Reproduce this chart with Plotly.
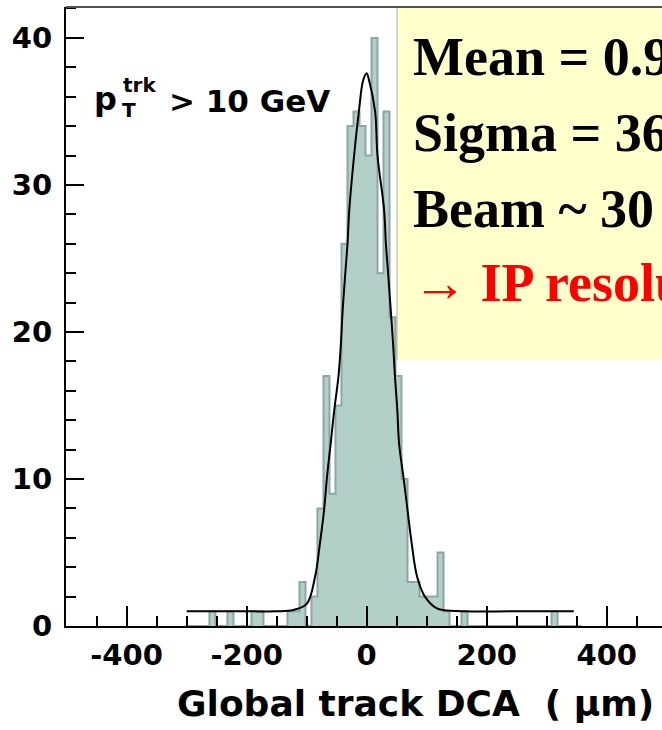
import numpy as np
import plotly.graph_objects as go

# ---------------- data ----------------
bin_start = -302          # left edge of first bin (µm)
bin_width = 10            # µm
counts = [0, 0, 0, 0, 1, 0, 0, 1, 0, 0,
          0, 1, 1, 0, 0, 0, 0, 1, 1, 3,
          0, 2, 8, 17, 9, 15, 26, 34, 35, 34,
          32, 40, 24, 35, 21, 17, 10, 3, 3, 2,
          2, 2, 5, 1, 0, 0, 1, 0, 0, 0,
          0, 0, 0, 0, 0, 0, 0, 0, 0, 0,
          0, 1, 0, 0, 0, 0]

fit_x = [-300, -200, -150, -122, -100, -86, -78, -71, -66, -60, -54, -47, -43,
         -40, -36, -32, -29, -21, -13, -6, 0, 4, 14, 18, 29, 32, 36, 40, 44, 47,
         51, 54, 61, 68, 75, 84, 97, 117, 150, 250, 345]
fit_y = [1.0, 1.0, 1.0, 1.09, 1.5, 3.35, 5.6, 7.9, 10.2, 12.4, 14.7, 17.0, 19.2,
         21.5, 23.8, 26.0, 28.3, 32.0, 35.0, 37.1, 37.6, 37.1, 35.0, 32.0, 28.3,
         26.0, 23.8, 21.5, 19.2, 17.0, 14.7, 12.4, 10.2, 7.9, 5.6, 3.35, 2.0, 1.2,
         1.02, 1.0, 1.0]

x_ticks = [-400, -200, 0, 200, 400]
x_tick_labels = ["-400", "-200", "0", "200", "400"]
y_ticks = [0, 10, 20, 30, 40]

info_lines = ["Mean = 0.9 \u03bcm", "Sigma = 36 \u03bcm", "Beam ~ 30 \u03bcm"]
info_red = "\u2192 IP resolution ~ 20 \u03bcm"

# ---------------- figure ----------------
edges = bin_start + bin_width * np.arange(len(counts) + 1)
step_y = list(counts) + [counts[-1]]

fig = go.Figure()
fig.add_trace(go.Scatter(
    x=edges, y=step_y, mode="lines", line_shape="hv",
    fill="tozeroy", fillcolor="rgb(178,208,199)",
    line=dict(color="rgb(140,166,168)", width=2),
    hoverinfo="skip", showlegend=False))
fig.add_trace(go.Scatter(
    x=fit_x, y=fit_y, mode="lines", line_shape="spline",
    line=dict(color="black", width=2), showlegend=False))

W, H = 662, 730
L, R, T, B = 66, 0, 7, 104
pw, ph = W - L - R, H - T - B


def px(xp):
    return (xp - L) / pw


def py(yp):
    return (H - B - yp) / ph


axis_font = dict(family="DejaVu Sans", size=29, color="black", weight="bold")

fig.update_layout(
    width=W, height=H,
    margin=dict(l=L, r=R, t=T, b=B),
    plot_bgcolor="white", paper_bgcolor="white",
    showlegend=False,
    xaxis=dict(range=[-501, 492], tickvals=x_ticks, ticktext=x_tick_labels,
               ticks="inside", ticklen=20,
               tickwidth=2, tickcolor="black", showline=True, linecolor="black",
               linewidth=2, showgrid=False, zeroline=False,
               tickfont=axis_font, ticklabelstandoff=2,
               minor=dict(dtick=50, ticks="inside", ticklen=10, tickwidth=2,
                          tickcolor="black", showgrid=False)),
    yaxis=dict(range=[0, 42.1], tickvals=y_ticks, ticks="inside", ticklen=18,
               tickwidth=2, tickcolor="black", showline=True, linecolor="black",
               linewidth=2, showgrid=False, zeroline=False,
               tickfont=axis_font, ticklabelstandoff=6,
               minor=dict(dtick=2, ticks="inside", ticklen=10, tickwidth=2,
                          tickcolor="black", showgrid=False)),
)

# top frame line
fig.add_shape(type="line", xref="paper", yref="paper", x0=0, x1=1.2, y0=1, y1=1,
              line=dict(color="rgb(80,80,80)", width=2))

# yellow info box
fig.add_shape(type="rect", xref="paper", yref="paper",
              x0=px(397), x1=1.3, y0=py(360), y1=py(8),
              fillcolor="rgb(255,255,204)", line=dict(width=0), layer="above")
fig.add_shape(type="line", xref="paper", yref="paper",
              x0=px(397), x1=px(397), y0=py(360), y1=py(8),
              line=dict(color="rgb(170,170,170)", width=1), layer="above")

serif = dict(family="Liberation Serif", size=54, color="black", weight="bold")
for txt, yc in zip(info_lines, [57, 133, 209]):
    fig.add_annotation(xref="paper", yref="paper", x=px(411), y=py(yc),
                       xanchor="left", yanchor="middle", showarrow=False,
                       text=txt, font=serif)
fig.add_annotation(xref="paper", yref="paper", x=px(411), y=py(283),
                   xanchor="left", yanchor="middle", showarrow=False,
                   text=info_red,
                   font=dict(family="Liberation Serif", size=54,
                             color="rgb(255,0,0)", weight="bold"))

# p_T^trk > 10 GeV label
lab = dict(family="DejaVu Sans", color="black", weight="bold")
fig.add_annotation(xref="paper", yref="paper", x=px(92), y=py(99),
                   xanchor="left", yanchor="middle", showarrow=False,
                   text="p", font=dict(size=32, **lab))
fig.add_annotation(xref="paper", yref="paper", x=px(121), y=py(85),
                   xanchor="left", yanchor="middle", showarrow=False,
                   text="trk", font=dict(size=20, **lab))
fig.add_annotation(xref="paper", yref="paper", x=px(120), y=py(110),
                   xanchor="left", yanchor="middle", showarrow=False,
                   text="T", font=dict(size=20, **lab))
fig.add_annotation(xref="paper", yref="paper", x=px(167), y=py(101),
                   xanchor="left", yanchor="middle", showarrow=False,
                   text="> 10 GeV", font=dict(size=31, **lab))

# x-axis title
fig.add_annotation(xref="paper", yref="paper", x=px(415), y=py(703),
                   xanchor="center", yanchor="middle", showarrow=False,
                   text="Global track DCA  ( \u03bcm)",
                   font=dict(family="DejaVu Sans", size=36, color="black",
                             weight="bold"))

fig.write_html("out.html", config={"displayModeBar": False},
               post_script="document.body.style.margin='0';"
                           "document.body.style.overflow='hidden';")
